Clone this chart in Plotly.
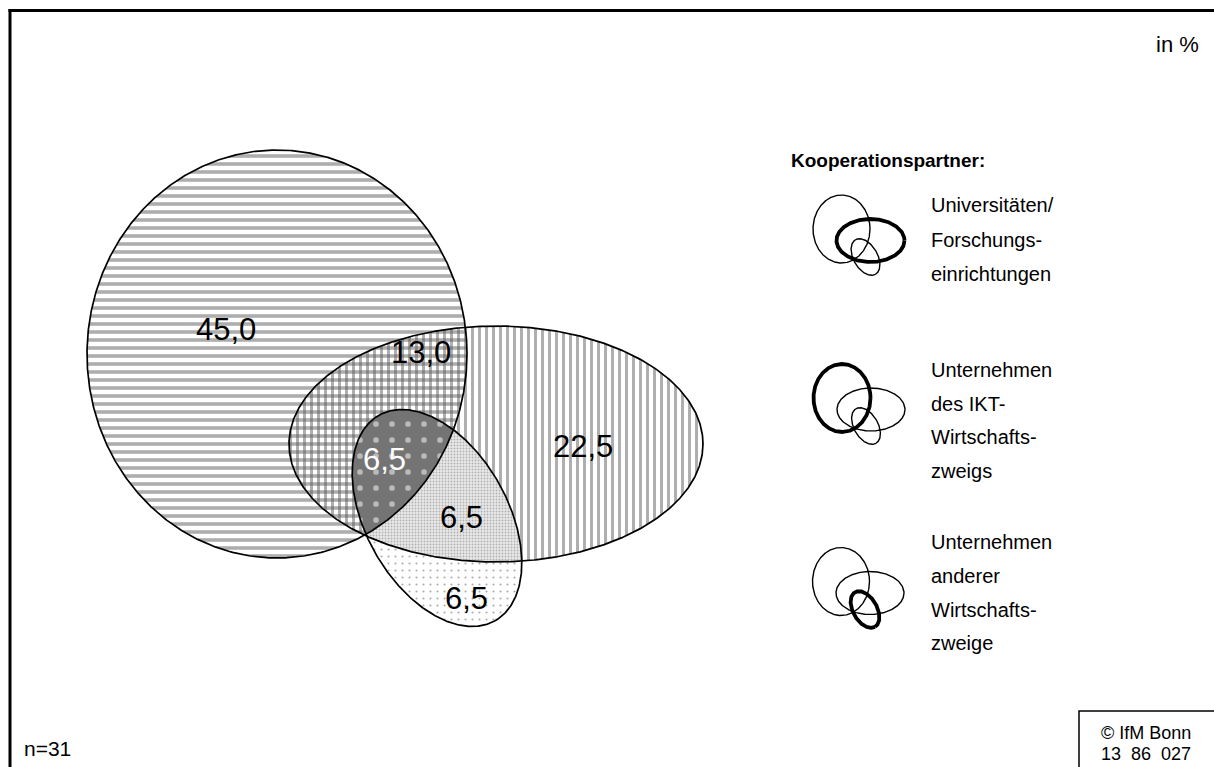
import numpy as np
import plotly.graph_objects as go

# ---------------- data ----------------
region_values = [45.0, 13.0, 22.5, 6.5, 6.5, 6.5]   # only-Uni, Uni+IKT, only IKT, all three, IKT+andere, only andere
legend_title = "Kooperationspartner:"
legend_lines = [
    ["Universitäten/", "Forschungs-", "einrichtungen"],
    ["Unternehmen", "des IKT-", "Wirtschafts-", "zweigs"],
    ["Unternehmen", "anderer", "Wirtschafts-", "zweige"],
]
legend_bold = [1, 0, 2]          # which circle is highlighted in each legend icon
unit_note = "in %"
sample_note = "n=31"
source_lines = ["© IfM Bonn", "13  86  027"]

# ---------------- layout constants (pixel space) ----------------
W, H = 1214, 767
FONT = "Liberation Sans, Arial, sans-serif"

E1 = dict(cx=277, cy=354, rx=190, ry=204, ang=0)      # Universitäten
E2 = dict(cx=496, cy=444, rx=207, ry=118, ang=0)      # IKT
E3 = dict(cx=437, cy=518, rx=118, ry=71, ang=60.5)    # andere

label_pos = [(226, 329), (421, 352), (583, 446), (384, 459), (461, 517), (466, 598)]
label_col = ["black", "black", "black", "white", "black", "black"]

icon_centers = [(841.5, 229), (842, 398), (841, 581.5)]
icon_text_y = [[205, 240, 274], [370, 404, 437, 471], [542, 576, 610, 643]]


def ell_pts(e, n=721):
    t = np.linspace(0, 2 * np.pi, n)
    th = np.radians(e["ang"])
    x = e["cx"] + e["rx"] * np.cos(t) * np.cos(th) - e["ry"] * np.sin(t) * np.sin(th)
    y = e["cy"] + e["rx"] * np.cos(t) * np.sin(th) + e["ry"] * np.sin(t) * np.cos(th)
    return x, y


def inside(e, x, y):
    th = np.radians(e["ang"])
    dx, dy = x - e["cx"], y - e["cy"]
    u = dx * np.cos(th) + dy * np.sin(th)
    v = -dx * np.sin(th) + dy * np.cos(th)
    return (u / e["rx"]) ** 2 + (v / e["ry"]) ** 2 <= 1.0005


def intersect(*ells):
    xs, ys = [], []
    for e in ells:
        x, y = ell_pts(e, 3000)
        m = np.ones_like(x, dtype=bool)
        for o in ells:
            if o is not e:
                m &= inside(o, x, y)
        xs.append(x[m]); ys.append(y[m])
    X = np.concatenate(xs); Y = np.concatenate(ys)
    cx, cy = X.mean(), Y.mean()
    o = np.argsort(np.arctan2(Y - cy, X - cx))
    X, Y = X[o], Y[o]
    return np.append(X, X[0]), np.append(Y, Y[0])


fig = go.Figure()


def fill_trace(x, y, pattern):
    fig.add_trace(go.Scatter(x=x, y=y, mode="lines", fill="toself",
                             fillcolor="rgba(0,0,0,0)", fillpattern=pattern,
                             line=dict(width=0), hoverinfo="skip", showlegend=False))


def outline(e, width, color="black"):
    x, y = ell_pts(e)
    fig.add_trace(go.Scatter(x=x, y=y, mode="lines", line=dict(color=color, width=width),
                             hoverinfo="skip", showlegend=False))


# E1 horizontal hatch
x, y = ell_pts(E1)
fill_trace(x, y, dict(shape="-", fgcolor="#5c5c5c", bgcolor="white", size=8, solidity=0.45))
# E2 vertical hatch (transparent background -> crosshatch in overlap)
x, y = ell_pts(E2)
fill_trace(x, y, dict(shape="|", fgcolor="#5c5c5c", bgcolor="rgba(0,0,0,0)", size=7, solidity=0.42))
# E3 sparse dots
x, y = ell_pts(E3)
fill_trace(x, y, dict(shape=".", fgcolor="#555555", bgcolor="white", size=7, solidity=0.07))
# E3 ∩ E2 fine stipple
x, y = intersect(E3, E2)
fill_trace(x, y, dict(shape=".", fgcolor="#7a7a7a", bgcolor="#e8e8e8", size=3, solidity=0.3))
# E3 ∩ E2 ∩ E1 dark with white squares
x, y = intersect(E3, E2, E1)
fill_trace(x, y, dict(shape=".", fgcolor="white", bgcolor="#747474", size=16, solidity=0.1))

for e in (E1, E2, E3):
    outline(e, 1.7)

# legend icons
for (cx, cy), b in zip(icon_centers, legend_bold):
    ells = [dict(cx=cx, cy=cy, rx=28.5, ry=34, ang=0),
            dict(cx=cx + 29, cy=cy + 11.5, rx=34, ry=21.5, ang=0),
            dict(cx=cx + 24, cy=cy + 28, rx=20, ry=12, ang=60)]
    for i, e in enumerate(ells):
        outline(e, 3.8 if i == b else 1.4)

annotations = []
for v, (lx, ly), c in zip(region_values, label_pos, label_col):
    annotations.append(dict(x=lx, y=ly, text=f"{v:.1f}".replace(".", ","), showarrow=False,
                            font=dict(family=FONT, size=31, color=c), xanchor="center", yanchor="middle"))

annotations.append(dict(x=789, y=160, text=f"<b>{legend_title}</b>", showarrow=False,
                        font=dict(family=FONT, size=19, color="black"), xanchor="left", yanchor="middle"))
for lines, ys in zip(legend_lines, icon_text_y):
    for t, yy in zip(lines, ys):
        annotations.append(dict(x=929, y=yy, text=t, showarrow=False,
                                font=dict(family=FONT, size=20, color="black"), xanchor="left", yanchor="middle"))

annotations.append(dict(x=1201, y=44, text=unit_note, showarrow=False,
                        font=dict(family=FONT, size=22, color="black"), xanchor="right", yanchor="middle"))
annotations.append(dict(x=22, y=748, text=sample_note, showarrow=False,
                        font=dict(family=FONT, size=21, color="black"), xanchor="left", yanchor="middle"))
for t, yy in zip(source_lines, [733, 754]):
    annotations.append(dict(x=1146, y=yy, text=t, showarrow=False,
                            font=dict(family=FONT, size=18, color="black"), xanchor="center", yanchor="middle"))

shapes = [
    dict(type="line", x0=8.5, x1=W + 5, y0=10.5, y1=10.5, line=dict(color="black", width=3), xref="x", yref="y"),
    dict(type="line", x0=10, x1=10, y0=9, y1=H + 5, line=dict(color="black", width=3), xref="x", yref="y"),
    dict(type="rect", x0=1079, x1=W + 5, y0=711, y1=H + 5, line=dict(color="black", width=1.5), xref="x", yref="y"),
]

fig.update_layout(
    width=W, height=H, margin=dict(l=0, r=0, t=0, b=0),
    paper_bgcolor="white", plot_bgcolor="white",
    xaxis=dict(range=[0, W], visible=False, fixedrange=True),
    yaxis=dict(range=[H, 0], visible=False, fixedrange=True),
    annotations=annotations, shapes=shapes, showlegend=False,
)

fig.write_html("out.html", config=dict(displayModeBar=False),
               post_script="document.body.style.margin='0';document.body.style.overflow='hidden';")
